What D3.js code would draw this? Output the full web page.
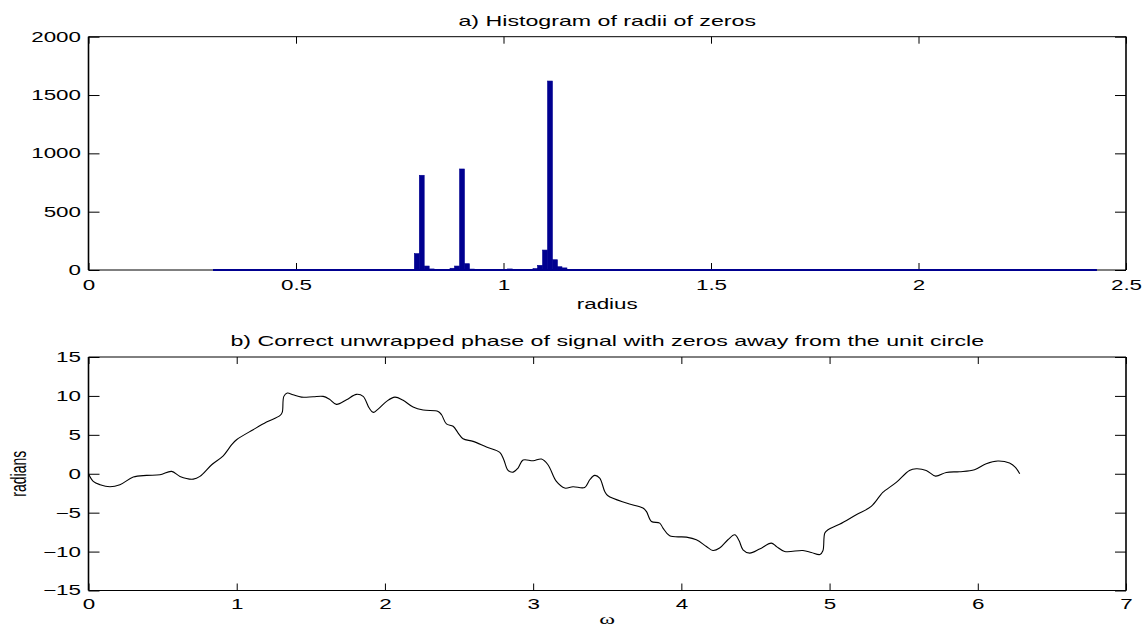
<!DOCTYPE html>
<html>
<head>
<meta charset="utf-8">
<script src="https://cdn.jsdelivr.net/npm/d3@7"></script>
<style>
  html, body { margin: 0; padding: 0; background: #fff; }
  svg { display: block; }
  text { font-family: "Liberation Sans", Arial, Helvetica, sans-serif; fill: #000; }
</style>
</head>
<body>
<svg id="fig" width="1143" height="629"></svg>
<script>
// ---- Panel a: histogram of zero radii ----
const radiusTicks = [0, 0.5, 1, 1.5, 2, 2.5];
const countTicks = [0, 500, 1000, 1500, 2000];
const histRange = [0.30, 2.43];          // span of the histogram bins
const binWidth = 0.0118;
const binCenters = [
  0.779, 0.791, 0.803, 0.815, 0.827, 0.839,
  0.865, 0.877, 0.888, 0.900, 0.912, 0.924, 0.935,
  1.016, 1.040,
  1.065, 1.077, 1.088, 1.100, 1.112, 1.124, 1.135, 1.147, 1.159, 1.171
];
const binCounts = [
  6, 140, 812, 34, 9, 3,
  3, 15, 34, 866, 54, 8, 3,
  9, 3,
  5, 12, 40, 171, 1620, 88, 28, 18, 6, 3
];

// ---- Panel b: unwrapped phase ----
const omegaTicks = [0, 1, 2, 3, 4, 5, 6, 7];
const phaseTicks = [-15, -10, -5, 0, 5, 10, 15];
const omega = [
  0, 0.032, 0.078, 0.145, 0.212, 0.302, 0.392, 0.482, 0.561, 0.617,
  0.707, 0.752, 0.831, 0.909, 0.966, 0.999, 1.111, 1.201, 1.291, 1.307,
  1.318, 1.341, 1.38, 1.437, 1.516, 1.583, 1.624, 1.673, 1.741, 1.808,
  1.853, 1.894, 1.921, 1.954, 2.011, 2.067, 2.123, 2.19, 2.258, 2.359,
  2.382, 2.415, 2.46, 2.494, 2.527, 2.595, 2.685, 2.775, 2.802, 2.831,
  2.865, 2.898, 2.932, 3.0, 3.056, 3.1, 3.157, 3.213, 3.269, 3.348,
  3.382, 3.415, 3.449, 3.483, 3.505, 3.629, 3.741, 3.764, 3.798, 3.854,
  3.876, 3.921, 4.034, 4.101, 4.169, 4.213, 4.258, 4.314, 4.36, 4.389,
  4.416, 4.461, 4.528, 4.607, 4.641, 4.697, 4.82, 4.877, 4.935, 4.955,
  4.968, 4.989, 5.067, 5.18, 5.281, 5.337, 5.359, 5.45, 5.539, 5.585,
  5.652, 5.715, 5.787, 5.877, 5.978, 6.057, 6.135, 6.214, 6.254, 6.283
];
const phase = [
  0, -0.98, -1.41, -1.67, -1.41, -0.43, -0.21, -0.13, 0.3, -0.34,
  -0.69, -0.34, 1.16, 2.31, 3.73, 4.37, 5.66, 6.64, 7.46, 7.88,
  9.94, 10.37, 10.15, 9.85, 9.9, 9.94, 9.6, 8.91, 9.51, 10.2,
  9.94, 8.44, 7.88, 8.31, 9.3, 9.85, 9.43, 8.57, 8.18, 8.01,
  7.58, 6.4, 6.1, 5.23, 4.5, 4.16, 3.43, 2.74, 1.8, 0.43,
  0.21, 0.73, 1.76, 1.67, 1.89, 1.16, -0.99, -1.84, -1.67, -1.76,
  -0.77, -0.21, -0.56, -2.27, -2.83, -3.77, -4.41, -4.84, -6.13, -6.34,
  -6.98, -7.97, -8.14, -8.48, -9.34, -9.86, -9.55, -8.48, -7.84, -8.57,
  -9.77, -10.2, -9.68, -8.91, -9.34, -9.98, -9.86, -10.11, -10.38, -9.9,
  -7.6, -7.2, -6.5, -5.27, -4.2, -2.91, -2.4, -1.11, 0.43, 0.64,
  0.43, -0.3, 0.17, 0.26, 0.51, 1.28, 1.63, 1.37, 0.81, 0.0
];

// ---- layout ----
const SX = 1.6;        // horizontal stretch of the printed figure's lettering
const FONT = 14;
const L = 88.5, R = 1126;
const panelA = { top: 36.7, bottom: 270 };
const panelB = { top: 357, bottom: 590.5 };

const svg = d3.select("#fig");
svg.append("rect").attr("width", 1143).attr("height", 629).attr("fill", "#fff");

function stretchedText(g, x, y, str, opts = {}) {
  const t = g.append("text")
    .attr("transform", `translate(${x},${y}) scale(${SX},1)` + (opts.rotate ? ` rotate(${opts.rotate})` : ""))
    .attr("text-anchor", opts.anchor || "middle")
    .attr("font-size", opts.size || FONT)
    .text(str);
  if (opts.dy) t.attr("dy", opts.dy);
  if (opts.family) t.style("font-family", opts.family);
  return t;
}

function drawAxes(g, x, y, xt, yt, top, bottom, xfmt, labelPad) {
  // bottom axis, ticks pointing inward
  const ax = g.append("g").attr("transform", `translate(0,${bottom})`)
    .call(d3.axisBottom(x).tickValues(xt).tickSizeInner(-7).tickSizeOuter(0).tickPadding(labelPad).tickFormat(xfmt));
  // top axis mirror ticks
  const axT = g.append("g").attr("transform", `translate(0,${top})`)
    .call(d3.axisTop(x).tickValues(xt).tickSizeInner(-7).tickSizeOuter(0).tickFormat(""));
  // left axis
  const ay = g.append("g").attr("transform", `translate(${L},0)`)
    .call(d3.axisLeft(y).tickValues(yt).tickSizeInner(-11).tickSizeOuter(0).tickPadding(7.5).tickFormat(d3.format("d")));
  // right axis mirror ticks
  const ayR = g.append("g").attr("transform", `translate(${R},0)`)
    .call(d3.axisRight(y).tickValues(yt).tickSizeInner(-11).tickSizeOuter(0).tickFormat(""));

  [ax, axT, ay, ayR].forEach(a => {
    a.select(".domain").remove();
    a.selectAll(".tick line").attr("stroke", "#000").attr("stroke-width", 1);
    a.selectAll("text")
      .attr("font-size", FONT)
      .style("font-family", '"Liberation Sans", Arial, Helvetica, sans-serif')
      .attr("fill", "#000");
  });
  ax.selectAll("text").attr("transform", `scale(${SX},1)`);
  ay.selectAll("text").each(function () {
    const t = d3.select(this);
    t.attr("x", +t.attr("x") / SX).attr("transform", `scale(${SX},1)`);
  });

  // box
  const box = g.append("g").attr("stroke", "#000").attr("fill", "none");
  box.append("line").attr("x1", L).attr("x2", R).attr("y1", top).attr("y2", top).attr("stroke-width", 1);
  box.append("line").attr("x1", L).attr("x2", R).attr("y1", bottom).attr("y2", bottom).attr("stroke-width", 1);
  box.append("line").attr("x1", L).attr("x2", L).attr("y1", top).attr("y2", bottom).attr("stroke-width", 1.6);
  box.append("line").attr("x1", R).attr("x2", R).attr("y1", top).attr("y2", bottom).attr("stroke-width", 1.6);
}

// ===== Panel a =====
const gA = svg.append("g");
const xA = d3.scaleLinear().domain([0, 2.5]).range([L, R]);
const yA = d3.scaleLinear().domain([0, 2000]).range([panelA.bottom, panelA.top]);

drawAxes(gA, xA, yA, radiusTicks, countTicks, panelA.top, panelA.bottom, d3.format("~g"), 10);

// zero-count bins along the base
gA.append("line")
  .attr("x1", xA(histRange[0])).attr("x2", xA(histRange[1]))
  .attr("y1", yA(0)).attr("y2", yA(0))
  .attr("stroke", "#000090").attr("stroke-width", 2);

gA.append("g").selectAll("rect")
  .data(binCenters.map((c, i) => ({ c, n: binCounts[i] })))
  .join("rect")
  .attr("x", d => xA(d.c - binWidth / 2))
  .attr("width", d => xA(d.c + binWidth / 2) - xA(d.c - binWidth / 2))
  .attr("y", d => yA(d.n))
  .attr("height", d => yA(0) - yA(d.n))
  .attr("fill", "#000090")
  .attr("stroke", "#000090")
  .attr("stroke-width", 0.6);

stretchedText(gA, (L + R) / 2, 25.5, "a) Histogram of radii of zeros", { size: 14.5 });
stretchedText(gA, (L + R) / 2, 309, "radius");

// ===== Panel b =====
const gB = svg.append("g");
const xB = d3.scaleLinear().domain([0, 7]).range([L, R]);
const yB = d3.scaleLinear().domain([-15, 15]).range([panelB.bottom, panelB.top]);

drawAxes(gB, xB, yB, omegaTicks, phaseTicks, panelB.top, panelB.bottom, d3.format("d"), 9);

const line = d3.line()
  .x((d, i) => xB(omega[i]))
  .y((d, i) => yB(phase[i]))
  .curve(d3.curveCatmullRom.alpha(0.5));

gB.append("path")
  .datum(omega)
  .attr("d", line)
  .attr("fill", "none")
  .attr("stroke", "#000")
  .attr("stroke-width", 1.1);

stretchedText(gB, (L + R) / 2, 346, "b) Correct unwrapped phase of signal with zeros away from the unit circle", { size: 14.5 });
stretchedText(gB, (L + R) / 2, 624, "ω", { size: 15, family: '"Liberation Serif", "DejaVu Serif", serif' });
stretchedText(gB, 18.3, (panelB.top + panelB.bottom) / 2, "radians", { rotate: -90, dy: "0.36em" });
</script>
</body>
</html>
